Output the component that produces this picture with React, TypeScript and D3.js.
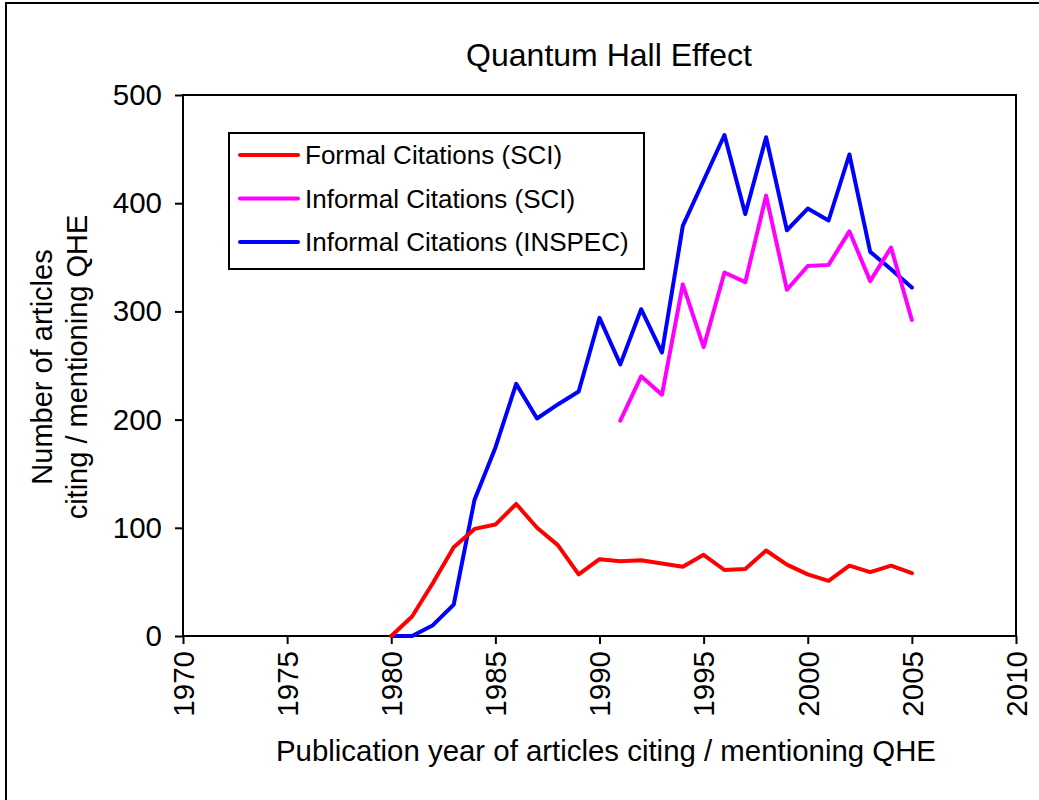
import React, { useEffect, useRef } from "react";
import * as d3 from "d3";

const years = [
  1980, 1981, 1982, 1983, 1984, 1985, 1986, 1987, 1988, 1989, 1990, 1991, 1992,
  1993, 1994, 1995, 1996, 1997, 1998, 1999, 2000, 2001, 2002, 2003, 2004, 2005,
];
const formalSCI = [
  0, 18, 49, 82, 99, 103, 122, 100, 84, 57, 71, 69, 70, 67, 64, 75, 61, 62, 79,
  66, 57, 51, 65, 59, 65, 58,
];
const informalINSPEC = [
  0, 0, 10, 29, 126, 174, 233, 201, 214, 226, 294, 251, 302, 262, 379, 421, 463,
  390, 461, 375, 395, 384, 445, 355, 339, 322,
];
const sciYears = [
  1991, 1992, 1993, 1994, 1995, 1996, 1997, 1998, 1999, 2000, 2001, 2002, 2003,
  2004, 2005,
];
const informalSCI = [
  199, 240, 223, 325, 267, 336, 327, 407, 320, 342, 343, 374, 328, 359, 292,
];

const xTicks = [1970, 1975, 1980, 1985, 1990, 1995, 2000, 2005, 2010];
const yTicks = [0, 100, 200, 300, 400, 500];

const seriesNames = [
  "Formal Citations (SCI)",
  "Informal Citations (SCI)",
  "Informal Citations (INSPEC)",
];
const seriesColors = ["#ff0000", "#ff00ff", "#0000ff"];

const W = 1039;
const H = 800;
const FONT = "'Liberation Sans', Arial, sans-serif";

const QheChart: React.FC = () => {
  const ref = useRef<SVGSVGElement | null>(null);

  useEffect(() => {
    if (!ref.current) return;
    const svg = d3.select(ref.current);
    svg.selectAll("*").remove();

    const left = 183,
      right = 1016,
      top = 95,
      bottom = 636;

    const x = d3.scaleLinear().domain([1970, 2010]).range([left, right]);
    const y = d3.scaleLinear().domain([0, 500]).range([bottom, top]);

    svg.append("rect").attr("width", W).attr("height", H).attr("fill", "#fff");

    // figure frame (only top and left edges show)
    svg
      .append("path")
      .attr("d", `M6,${H} L6,3 L${W},3`)
      .attr("fill", "none")
      .attr("stroke", "#000")
      .attr("stroke-width", 2);

    svg
      .append("text")
      .attr("x", 609)
      .attr("y", 66)
      .attr("text-anchor", "middle")
      .style("font-family", FONT)
      .style("font-size", "32px")
      .text("Quantum Hall Effect");

    // plot frame
    svg
      .append("rect")
      .attr("x", left)
      .attr("y", top)
      .attr("width", right - left)
      .attr("height", bottom - top)
      .attr("fill", "none")
      .attr("stroke", "#000")
      .attr("stroke-width", 2);

    // y axis
    const yAxis = svg
      .append("g")
      .attr("transform", `translate(${left},0)`)
      .call(
        d3
          .axisLeft(y)
          .tickValues(yTicks)
          .tickSize(8)
          .tickPadding(13)
          .tickFormat(d3.format("d"))
      );
    yAxis.select(".domain").remove();
    yAxis.selectAll("line").attr("stroke-width", 2);
    yAxis
      .selectAll("text")
      .style("font-family", FONT)
      .style("font-size", "29.5px")
      .attr("fill", "#000");

    // x axis
    const xAxis = svg
      .append("g")
      .attr("transform", `translate(0,${bottom})`)
      .call(
        d3
          .axisBottom(x)
          .tickValues(xTicks)
          .tickSize(8)
          .tickFormat(d3.format("d"))
      );
    xAxis.select(".domain").remove();
    xAxis.selectAll("line").attr("stroke-width", 2);
    xAxis
      .selectAll("text")
      .style("font-family", FONT)
      .style("font-size", "29.5px")
      .attr("fill", "#000")
      .attr("text-anchor", "end")
      .attr("transform", "translate(0,15) rotate(-90)")
      .attr("x", 0)
      .attr("y", 0)
      .attr("dy", "0.35em");

    svg
      .append("text")
      .attr("x", 606)
      .attr("y", 761)
      .attr("text-anchor", "middle")
      .style("font-family", FONT)
      .style("font-size", "29.4px")
      .text("Publication year of articles citing / mentioning QHE");

    const yLabel = svg
      .append("g")
      .attr("transform", "translate(0,367)")
      .style("font-family", FONT)
      .style("font-size", "29px");
    yLabel
      .append("text")
      .attr("transform", "translate(52,0) rotate(-90)")
      .attr("text-anchor", "middle")
      .text("Number of articles");
    yLabel
      .append("text")
      .attr("transform", "translate(87,0) rotate(-90)")
      .attr("text-anchor", "middle")
      .text("citing / mentioning QHE");

    const line = d3
      .line<[number, number]>()
      .x((d) => x(d[0]))
      .y((d) => y(d[1]));

    const series: [number, number][][] = [
      years.map((yr, i) => [yr, formalSCI[i]]),
      sciYears.map((yr, i) => [yr, informalSCI[i]]),
      years.map((yr, i) => [yr, informalINSPEC[i]]),
    ];

    // draw order: INSPEC, SCI informal, formal on top
    [2, 1, 0].forEach((k) => {
      svg
        .append("path")
        .datum(series[k])
        .attr("d", line)
        .attr("fill", "none")
        .attr("stroke", seriesColors[k])
        .attr("stroke-width", 4)
        .attr("stroke-linejoin", "round")
        .attr("stroke-linecap", "round");
    });

    // legend
    const lg = svg.append("g");
    lg.append("rect")
      .attr("x", 229)
      .attr("y", 133)
      .attr("width", 415)
      .attr("height", 136)
      .attr("fill", "#fff")
      .attr("stroke", "#000")
      .attr("stroke-width", 2);
    const rowY = d3.scaleLinear().domain([0, 2]).range([155, 242]);
    seriesNames.forEach((name, i) => {
      lg.append("line")
        .attr("x1", 240)
        .attr("x2", 298)
        .attr("y1", rowY(i))
        .attr("y2", rowY(i))
        .attr("stroke", seriesColors[i])
        .attr("stroke-width", 4)
        .attr("stroke-linecap", "round");
      lg.append("text")
        .attr("x", 305)
        .attr("y", rowY(i))
        .attr("dy", "0.35em")
        .style("font-family", FONT)
        .style("font-size", "26px")
        .text(name);
    });
  }, []);

  return (
    <svg
      ref={ref}
      width={W}
      height={H}
      style={{ position: "absolute", left: 0, top: 0 }}
    ></svg>
  );
};

export default function App() {
  return <QheChart />;
}
